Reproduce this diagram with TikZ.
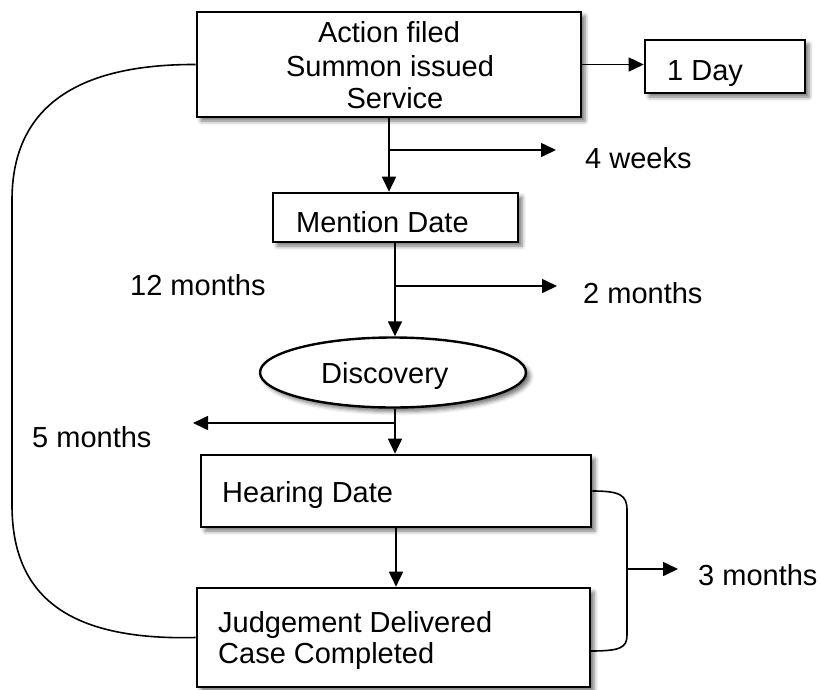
\documentclass[tikz,border=0pt]{standalone}
\usepackage{fontspec}
\setmainfont{Liberation Sans}
\usetikzlibrary{arrows.meta,shapes.geometric,shadows.blur}
\begin{document}
\begin{tikzpicture}[x=1pt,y=-1pt,
  shad/.style={blur shadow={shadow xshift=4pt, shadow yshift=-4pt, shadow blur radius=4pt, shadow opacity=55}},
  box/.style={draw=black, line width=2.6pt, fill=white, inner sep=0pt, shad},
  oval/.style={ellipse, draw=black, line width=2.4pt, fill=white, inner sep=0pt, shad},
  lbl/.style={inner sep=0pt, font=\fontsize{29}{33}\selectfont},
  conn/.style={draw=black, line width=1.6pt},
  arr/.style={conn, -{Triangle[length=15pt,width=14pt]}}
]
\useasboundingbox (0,0) rectangle (820,689);

% boxes
\node[box, minimum width=384pt, minimum height=105pt] (top) at (389,64.5) {};
\node[box, minimum width=160pt, minimum height=53pt] (oneday) at (725,66.5) {};
\node[box, minimum width=245pt, minimum height=49pt] (mention) at (395.5,217.5) {};
\node[oval, minimum width=266pt, minimum height=70pt] (disc) at (393,372.5) {};
\node[box, minimum width=390pt, minimum height=72pt] (hearing) at (396,491) {};
\node[box, minimum width=393pt, minimum height=99pt] (judge) at (393.5,637.5) {};

% texts in shapes
\node[lbl, anchor=base] (t1) at (389,42) {Action filed};
\node[lbl, anchor=base] (t2) at (390,76) {Summon issued};
\node[lbl, anchor=base] (t3) at (395,108) {Service};
\node[lbl, anchor=base west] (tday) at (667,80) {1 Day};
\node[lbl, anchor=base west] (tmention) at (296,232) {Mention Date};
\node[lbl, anchor=base west] (tdisc) at (321,383) {Discovery};
\node[lbl, anchor=base west] (thear) at (222,502) {Hearing Date};
\node[lbl, anchor=base west] (tj1) at (218,632) {Judgement Delivered};
\node[lbl, anchor=base west] (tj2) at (218,663) {Case Completed};

% free labels
\node[lbl, anchor=base west] (l4w) at (585,168) {4 weeks};
\node[lbl, anchor=base west] (l12m) at (130,295) {12 months};
\node[lbl, anchor=base west] (l2m) at (583,303) {2 months};
\node[lbl, anchor=base west] (l5m) at (32,447) {5 months};
\node[lbl, anchor=base west] (l3m) at (698,585) {3 months};

% coordinates
\coordinate (b1) at (389,150);
\coordinate (e1) at (556,150);
\coordinate (b2) at (395,286);
\coordinate (e2) at (557,286);
\coordinate (b3) at (395,423);
\coordinate (e3) at (193,423);
\coordinate (lt) at (12,200);
\coordinate (lb) at (12,505);
\coordinate (rt) at (627,510);
\coordinate (rb) at (627,635);
\coordinate (rm) at (627,569);
\coordinate (rend) at (678,569);
\coordinate (jr) at (590,651);

% connectors
\draw[arr] (top.east) -- (oneday.west |- top.east);
\draw[arr] (b1 |- top.south) -- (b1 |- mention.north);
\draw[arr] (b1) -- (e1);
\draw[arr] (b2 |- mention.south) -- (b2 |- disc.north);
\draw[arr] (b2) -- (e2);
\draw[arr] (b3 |- disc.south) -- (b3 |- hearing.north);
\draw[arr] (b3) -- (e3);
\draw[arr] (hearing.south) -- (hearing.south |- judge.north);

\draw[conn] (top.west) .. controls (60,64) and (12,120) .. (lt) -- (lb)
  .. controls (12,590) and (60,641) .. (judge.west);

\draw[conn] (hearing.east) .. controls (620,491) and (627,495) .. (rt) -- (rb)
  .. controls (627,648) and (620,651) .. (jr);
\draw[arr] (rm) -- (rend);
\end{tikzpicture}
\end{document}
